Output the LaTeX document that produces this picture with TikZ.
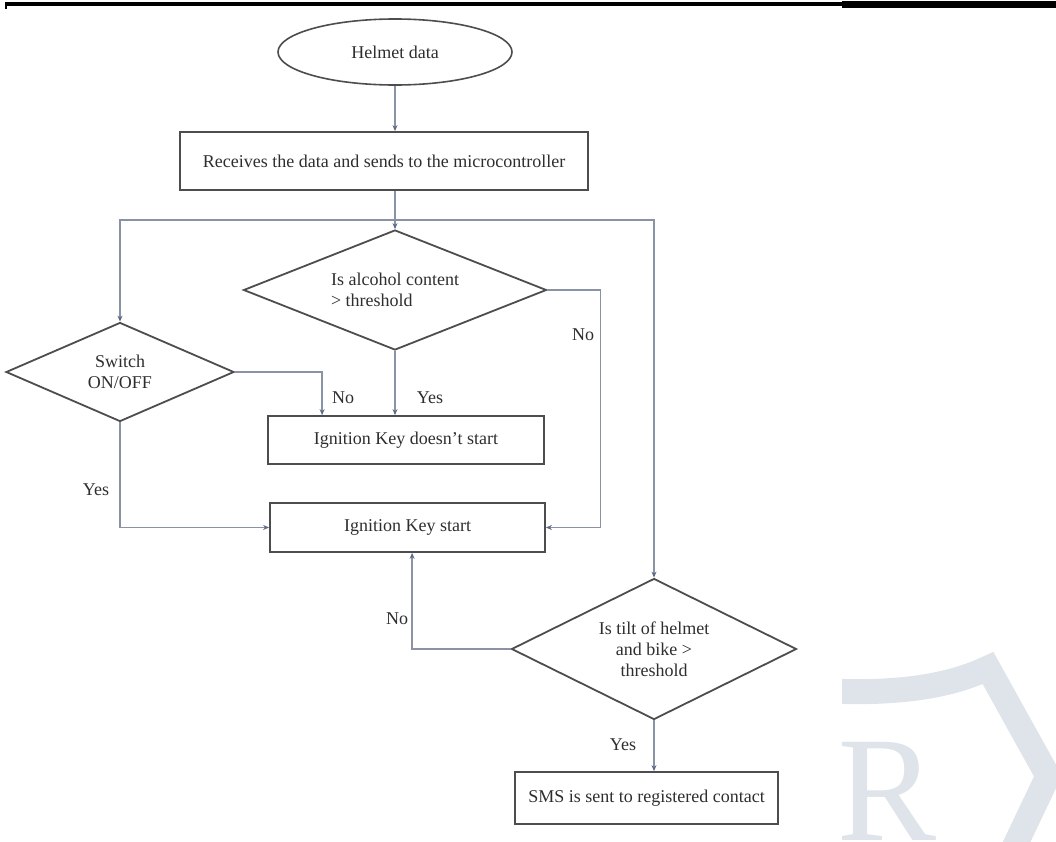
\documentclass[tikz,border=0pt]{standalone}
\usepackage{fontspec}
\setmainfont{Liberation Serif}
\usetikzlibrary{
	shapes.geometric,
	arrows.meta,
	positioning
}

\definecolor{linegray}{HTML}{8A93A3}
\definecolor{tipblue}{HTML}{5C6A88}
\definecolor{boxgray}{HTML}{4D4D4D}
\definecolor{textgray}{HTML}{2E2E2E}
\definecolor{markgray}{HTML}{DEE4E9}

\begin{document}
\begin{tikzpicture}[
				x=1pt, y=-1pt,
				every node/.style={font=\fontsize{18}{21}\selectfont, text=textgray},
				stage/.style={
					rectangle, draw=boxgray, line width=1.8pt,
					inner sep=0pt, align=center
				},
				decision/.style={
					diamond, aspect=2, draw=boxgray, line width=1.8pt,
					inner sep=0pt, align=center
				},
				startstop/.style={
					ellipse, draw=boxgray, line width=1.6pt, inner sep=0pt
				},
				conn/.style={draw=linegray, line width=1.3pt},
				arrow/.style={conn, -{Stealth[length=6pt, width=5pt, color=tipblue]}}
				]
				\useasboundingbox (0,0) rectangle (1056,841);
				
				% header rule
				\fill[black] (5,2) rectangle (842,6);
				\fill[black] (5,2) rectangle (7,9);
				\fill[black] (842,0.5) rectangle (1056,7.5);
				
				% faint logo in the corner
				\begin{scope}
					\clip (842,560) rectangle (1056,841);
					\draw[markgray, line width=25pt, line join=miter]
						(830,691) .. controls (900,694) and (950,686) .. (988,668)
						-- (1048,776) -- (1008,860);
					\node[anchor=north west, inner sep=0pt, text=markgray,
						font=\fontsize{150}{150}\selectfont] (logoR) at (836,742) {R};
				\end{scope}
				
				% Helmet data
				\node[startstop, minimum width=234pt, minimum height=66pt] (helmet) at (395,52) {Helmet data};
				
				% receiver
				\node[stage, minimum width=408pt, minimum height=58pt] (recv) at (384,161) {Receives the data and sends to the microcontroller};
				
				% alcohol check
				\node[decision, minimum width=303pt, minimum height=120pt, align=left] (alcohol) at (395,290) {Is alcohol content\\> threshold};
				
				% switch check
				\node[decision, minimum width=228pt, minimum height=99pt] (switch) at (120,372) {Switch\\ON/OFF};
				
				% ignition blocked
				\node[stage, minimum width=276pt, minimum height=48pt] (nostart) at (406,440) {Ignition Key doesn't start};
				
				% ignition ok
				\node[stage, minimum width=275pt, minimum height=49pt] (start) at (407.5,527.5) {Ignition Key start};
				
				% tilt check
				\node[decision, minimum width=285pt, minimum height=141pt] (tilt) at (654,649) {Is tilt of helmet\\and bike >\\threshold};
				
				% SMS
				\node[stage, minimum width=263pt, minimum height=52pt] (sms) at (646.5,798) {SMS is sent to registered contact};
				
				% branch point below the receiver
				\coordinate (split) at (395,220);
				
				% connectors
				\draw[arrow] (helmet) -- (helmet |- recv.north);
				\draw[conn] (helmet |- recv.south) -- (split);
				\draw[arrow] (split) -- (alcohol.north);
				\draw[arrow] (split) -| (switch.north);
				\draw[arrow] (split) -| (tilt.north);
				\draw[arrow] (alcohol.east) -- ++(53,0) |- (start.east);
				\draw[arrow] (alcohol.south) -- (alcohol.south |- nostart.north);
				\draw[arrow] (switch.east) -| ([xshift=55pt]nostart.north west);
				\draw[arrow] (switch.south) |- (start.west);
				\draw[arrow] (tilt.west) -| ([xshift=143pt]start.south west);
				\draw[arrow] (tilt.south) -- (tilt.south |- sms.north);
				
				% answers
				\node (alcNo) at (583,335) {No};
				\node (alcYes) at (430,398) {Yes};
				\node (swNo) at (343,398) {No};
				\node (swYes) at (96,490) {Yes};
				\node (tiltNo) at (397,619) {No};
				\node (tiltYes) at (623,745) {Yes};
			\end{tikzpicture}
\end{document}
